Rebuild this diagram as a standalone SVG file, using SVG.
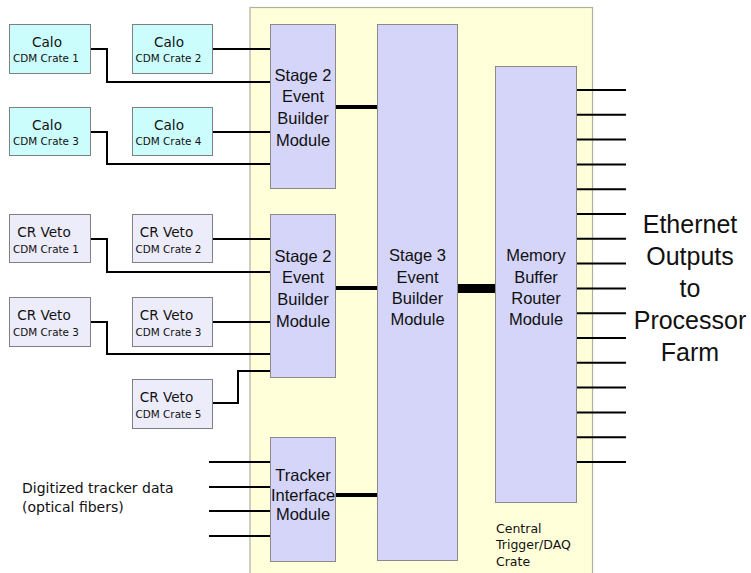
<svg xmlns="http://www.w3.org/2000/svg" width="751" height="573" viewBox="0 0 751 573">
<style>
.calo{fill:#ccfdfd;stroke:#808080;stroke-width:1}
.veto{fill:#ececfb;stroke:#808080;stroke-width:1}
.mod{fill:#d5d5fa;stroke:#8a8a8a;stroke-width:1}
.crate{fill:#ffffd9;stroke:#b0b0a0;stroke-width:1.2}
.big{font-family:"Liberation Sans",Arial,sans-serif;font-size:13.6px;fill:#111}
.sm{font-family:"DejaVu Sans",sans-serif;font-size:10.4px;fill:#111}
.lbl{font-family:"DejaVu Sans",sans-serif;fill:#111}
.modt{font-family:"Liberation Sans",Arial,sans-serif;font-size:16.5px;fill:#111;text-anchor:middle}
.eth{font-family:"Liberation Sans",Arial,sans-serif;font-size:25px;fill:#111;text-anchor:middle}
.w{fill:none;stroke:#000;stroke-width:2}
.t{fill:none;stroke:#000;stroke-width:4}
</style>
<rect width="751" height="573" fill="#fff"/>
<g id="crate">
<rect class="crate" x="250" y="7.5" width="342.5" height="570"/>
<text class="lbl" font-size="12.5" x="496"><tspan x="496" y="533">Central</tspan><tspan x="496" y="549">Trigger/DAQ</tspan><tspan x="496" y="566">Crate</tspan></text>
</g>
<g id="connectors">
<path class="w" d="M213 49H270M91 49H107V82H270M213 132H270M91 132H107V164H270"/>
<path class="w" d="M213 239H270M91 239H107V272H270M213 322H270M91 322H107V354H270M213 403H238V371H270"/>
<path class="w" d="M209 462H270M209 487H270M209 511H270M209 536H270"/>
<path class="t" d="M336 107H377M336 288H377M336 495H377"/>
<path fill="none" stroke="#000" stroke-width="9" d="M458 288.5H495"/>
<path class="w" d="M577 90H626M577 114.8H626M577 139.6H626M577 164.4H626M577 189.2H626M577 214H626M577 238.8H626M577 263.6H626M577 288.4H626M577 313.2H626M577 338H626M577 362.8H626M577 387.6H626M577 412.4H626M577 437.2H626M577 462H626"/>
</g>
<g id="calo1"><rect class="calo" x="9.5" y="24.5" width="81" height="49"/><text class="lbl" font-size="13.6" x="47" y="47" text-anchor="middle">Calo</text><text class="sm" x="46" y="62" text-anchor="middle">CDM Crate 1</text></g>
<g id="calo2"><rect class="calo" x="132.5" y="24.5" width="80" height="49"/><text class="lbl" font-size="13.6" x="169" y="47" text-anchor="middle">Calo</text><text class="sm" x="168.5" y="62" text-anchor="middle">CDM Crate 2</text></g>
<g id="calo3"><rect class="calo" x="9.5" y="107.5" width="81" height="48"/><text class="lbl" font-size="13.6" x="47" y="130" text-anchor="middle">Calo</text><text class="sm" x="46" y="145" text-anchor="middle">CDM Crate 3</text></g>
<g id="calo4"><rect class="calo" x="132.5" y="107.5" width="80" height="48"/><text class="lbl" font-size="13.6" x="169" y="130" text-anchor="middle">Calo</text><text class="sm" x="168.5" y="145" text-anchor="middle">CDM Crate 4</text></g>
<g id="veto1"><rect class="veto" x="9.5" y="214.5" width="81" height="48"/><text class="lbl" font-size="13.6" x="44" y="237" text-anchor="middle">CR Veto</text><text class="sm" x="46" y="253" text-anchor="middle">CDM Crate 1</text></g>
<g id="veto2"><rect class="veto" x="132.5" y="214.5" width="80" height="48"/><text class="lbl" font-size="13.6" x="166.5" y="237" text-anchor="middle">CR Veto</text><text class="sm" x="168.5" y="253" text-anchor="middle">CDM Crate 2</text></g>
<g id="veto3a"><rect class="veto" x="9.5" y="297.5" width="81" height="49"/><text class="lbl" font-size="13.6" x="44" y="320" text-anchor="middle">CR Veto</text><text class="sm" x="46" y="336" text-anchor="middle">CDM Crate 3</text></g>
<g id="veto3b"><rect class="veto" x="132.5" y="297.5" width="80" height="49"/><text class="lbl" font-size="13.6" x="166.5" y="320" text-anchor="middle">CR Veto</text><text class="sm" x="168.5" y="336" text-anchor="middle">CDM Crate 3</text></g>
<g id="veto5"><rect class="veto" x="132.5" y="379.5" width="80" height="49"/><text class="lbl" font-size="13.6" x="166.5" y="402" text-anchor="middle">CR Veto</text><text class="sm" x="168.5" y="418" text-anchor="middle">CDM Crate 5</text></g>
<g id="stage2a"><rect class="mod" x="270.5" y="24.5" width="65" height="164"/><text class="modt" x="303"><tspan x="303" y="81">Stage 2</tspan><tspan x="303" y="102">Event</tspan><tspan x="303" y="124">Builder</tspan><tspan x="303" y="146">Module</tspan></text></g>
<g id="stage2b"><rect class="mod" x="270.5" y="214.5" width="65" height="163"/><text class="modt" x="303"><tspan x="303" y="262">Stage 2</tspan><tspan x="303" y="283">Event</tspan><tspan x="303" y="305">Builder</tspan><tspan x="303" y="327">Module</tspan></text></g>
<g id="tracker"><rect class="mod" x="270.5" y="437.5" width="65" height="124"/><text class="modt" font-size="15.5" x="303"><tspan x="303" y="481">Tracker</tspan><tspan x="303" y="501">Interface</tspan><tspan x="303" y="520">Module</tspan></text></g>
<g id="stage3"><rect class="mod" x="377.5" y="24.5" width="80" height="536"/><text class="modt" x="417.5"><tspan x="417.5" y="261">Stage 3</tspan><tspan x="417.5" y="283">Event</tspan><tspan x="417.5" y="304">Builder</tspan><tspan x="417.5" y="325">Module</tspan></text></g>
<g id="membuf"><rect class="mod" x="495.5" y="66.5" width="81" height="436"/><text class="modt" x="536"><tspan x="536" y="261">Memory</tspan><tspan x="536" y="283">Buffer</tspan><tspan x="536" y="304">Router</tspan><tspan x="536" y="325">Module</tspan></text></g>
<g id="tracker-label"><text class="lbl" font-size="14" x="22"><tspan x="22" y="493">Digitized tracker data</tspan><tspan x="22" y="512">(optical fibers)</tspan></text></g>
<g id="ethernet-label"><text class="eth"><tspan x="690" y="233">Ethernet</tspan><tspan x="690" y="265">Outputs</tspan><tspan x="690" y="297">to</tspan><tspan x="690" y="329">Processor</tspan><tspan x="690" y="361">Farm</tspan></text></g>
</svg>
